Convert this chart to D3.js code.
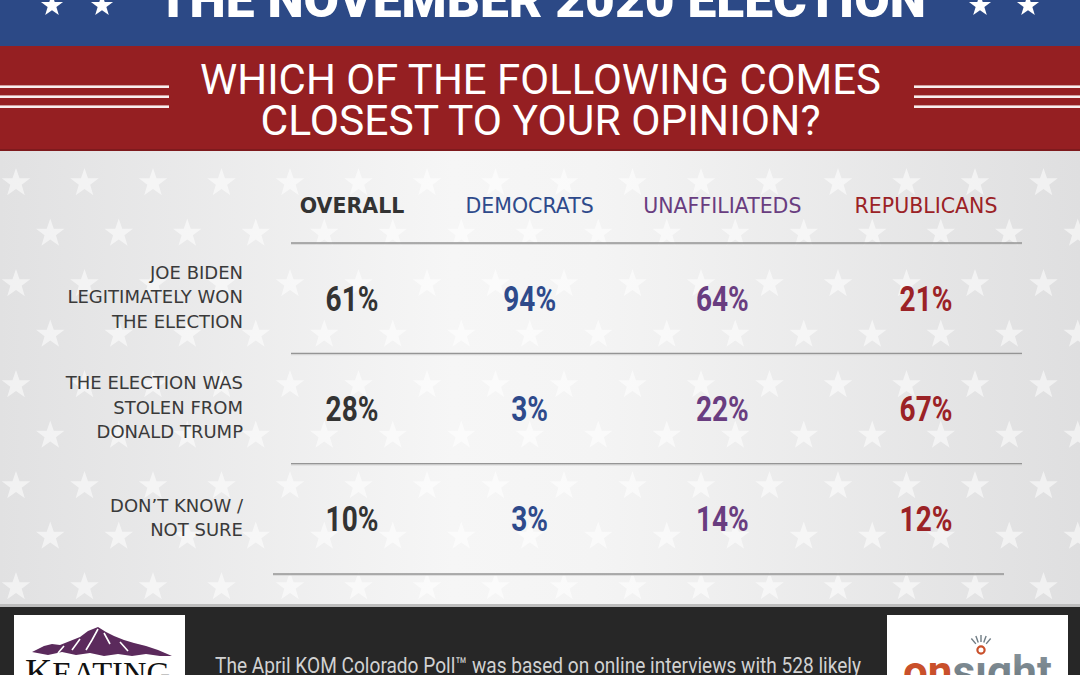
<!DOCTYPE html>
<html><head><meta charset="utf-8">
<script src="https://cdn.jsdelivr.net/npm/d3@7"></script>
<style>html,body{margin:0;padding:0;background:#fff;overflow:hidden}</style>
</head><body>
<svg id="c" width="1080" height="675"></svg>
<script>
// ---------- data ----------
const title = "THE NOVEMBER 2020 ELECTION";
const questionLines = ["WHICH OF THE FOLLOWING COMES", "CLOSEST TO YOUR OPINION?"];
const columns = ["OVERALL", "DEMOCRATS", "UNAFFILIATEDS", "REPUBLICANS"];
const responses = ["biden", "stolen", "dontknow"];
const responseLabels = [
  ["JOE BIDEN", "LEGITIMATELY WON", "THE ELECTION"],
  ["THE ELECTION WAS", "STOLEN FROM", "DONALD TRUMP"],
  ["DON\u2019T KNOW /", "NOT SURE"]
];
const overallValues = [61, 28, 10];
const democratValues = [94, 3, 3];
const unaffiliatedValues = [64, 22, 14];
const republicanValues = [21, 67, 12];
const footnote = "The April KOM Colorado Poll\u2122 was based on online interviews with 528 likely";

const seriesValues = [overallValues, democratValues, unaffiliatedValues, republicanValues];

// ---------- setup ----------
const W = 1080, H = 675;
const svg = d3.select("#c");
const defs = svg.append("defs");

const color = d3.scaleOrdinal().domain(columns)
  .range(["#333333", "#2e4a8b", "#693d80", "#9b2226"]);
const x = d3.scalePoint().domain(columns).range([345, 920]);
const y = d3.scaleBand().domain(responses).range([243, 574]).paddingInner(0).paddingOuter(0);

function starPath(R, r) {
  const pts = [];
  for (let i = 0; i < 10; i++) {
    const a = -Math.PI / 2 + i * Math.PI / 5;
    const rad = i % 2 === 0 ? R : r;
    pts.push([rad * Math.cos(a), rad * Math.sin(a)]);
  }
  return "M" + pts.map(p => p[0].toFixed(2) + "," + p[1].toFixed(2)).join("L") + "Z";
}

// ---------- background ----------
const bg = defs.append("linearGradient").attr("id", "bgGrad").attr("x1", 0).attr("x2", 1).attr("y1", 0).attr("y2", 0);
[[0, "#e1e1e2"], [0.42, "#f6f6f6"], [0.55, "#f4f4f4"], [1, "#dfdfe0"]].forEach(s =>
  bg.append("stop").attr("offset", s[0]).attr("stop-color", s[1]));
svg.append("rect").attr("x", 0).attr("y", 140).attr("width", W).attr("height", 480).attr("fill", "url(#bgGrad)");

const starG = svg.append("g").attr("fill", "#ffffff").attr("fill-opacity", 0.55);
const bgStar = starPath(15, 6);
for (let k = -1; k <= 9; k++) {
  const cy = 183 + 50.5 * k;
  const off = (k % 2 === 0) ? 16 : 50.25;
  for (let j = -1; j <= 16; j++) {
    starG.append("path").attr("d", bgStar).attr("transform", `translate(${off + 68.5 * j},${cy})`);
  }
}

// ---------- blue banner ----------
svg.append("rect").attr("x", 0).attr("y", 0).attr("width", W).attr("height", 46).attr("fill", "#2c4986");
svg.append("text").attr("x", 157).attr("y", 17)
  .attr("font-family", "Roboto, 'DejaVu Sans', sans-serif").attr("font-weight", 900)
  .attr("font-size", 50).attr("fill", "#ffffff")
  .attr("textLength", 769).attr("lengthAdjust", "spacingAndGlyphs")
  .text(title);
const smallStar = starPath(11.6, 4.6);
[52, 102, 980, 1028].forEach(cx =>
  svg.append("path").attr("d", smallStar).attr("fill", "#ffffff").attr("transform", `translate(${cx},5.6)`));

// ---------- red banner ----------
svg.append("rect").attr("x", 0).attr("y", 46).attr("width", W).attr("height", 105).attr("fill", "#951f22");
svg.append("rect").attr("x", 0).attr("y", 149).attr("width", W).attr("height", 2).attr("fill", "#7e1a1d");
[86.7, 96.7, 106.7].forEach(ly => {
  svg.append("rect").attr("x", 0).attr("y", ly - 1.3).attr("width", 169).attr("height", 2.6).attr("fill", "#f8eeee");
  svg.append("rect").attr("x", 914).attr("y", ly - 1.3).attr("width", 166).attr("height", 2.6).attr("fill", "#f8eeee");
});
const qWidths = [681, 560];
svg.selectAll("text.q").data(questionLines).join("text").attr("class", "q")
  .attr("x", 540.5).attr("y", (d, i) => i === 0 ? 93.5 : 135)
  .attr("text-anchor", "middle")
  .attr("font-family", "Roboto, 'DejaVu Sans', sans-serif").attr("font-weight", 400)
  .attr("font-size", 42).attr("fill", "#ffffff")
  .attr("textLength", (d, i) => qWidths[i]).attr("lengthAdjust", "spacingAndGlyphs")
  .text(d => d);

// ---------- table ----------
// header
svg.selectAll("text.hdr").data(columns).join("text").attr("class", "hdr")
  .attr("x", d => x(d) + (d === "OVERALL" ? 7 : d === "DEMOCRATS" ? -7 : d === "UNAFFILIATEDS" ? -6 : 6))
  .attr("y", 213)
  .attr("text-anchor", "middle")
  .attr("font-family", "'DejaVu Sans', sans-serif")
  .attr("font-weight", d => d === "OVERALL" ? 700 : 400)
  .attr("font-size", 20.5)
  .attr("fill", d => color(d))
  .text(d => d);

// separator lines
const edges = y.domain().map(r => y(r)).concat([y.range()[1]]);
const lineG = svg.append("g");
edges.forEach((ey, i) => {
  const last = i === edges.length - 1;
  const x0 = last ? 273 : 291, x1 = last ? 1004 : 1022;
  lineG.append("line").attr("x1", x0).attr("x2", x1).attr("y1", ey + 1.2).attr("y2", ey + 1.2)
    .attr("stroke", "#d6d6d6").attr("stroke-width", 1.2);
  lineG.append("line").attr("x1", x0).attr("x2", x1).attr("y1", ey).attr("y2", ey)
    .attr("stroke", "#959595").attr("stroke-width", 1.4);
});

// row labels
responses.forEach((r, ri) => {
  const lines = responseLabels[ri];
  const cy = y(r) + y.bandwidth() / 2;
  svg.append("g").selectAll("text").data(lines).join("text")
    .attr("x", 243)
    .attr("y", (d, i) => cy + 5 + (i - (lines.length - 1) / 2) * 24.5)
    .attr("text-anchor", "end")
    .attr("font-family", "'DejaVu Sans', sans-serif")
    .attr("font-size", 18).attr("fill", "#3a3a3a")
    .text(d => d);
});

// values
const cells = [];
columns.forEach((c, ci) => responses.forEach((r, ri) =>
  cells.push({ col: c, row: r, v: seriesValues[ci][ri] })));
svg.append("g").selectAll("text").data(cells).join("text")
  .attr("transform", d => `translate(${x(d.col) + (d.col === "OVERALL" ? 7 : d.col === "DEMOCRATS" ? -7 : d.col === "UNAFFILIATEDS" ? -6 : 6)},${y(d.row) + y.bandwidth() / 2 + 12.5}) scale(0.8,1)`)
  .attr("text-anchor", "middle")
  .attr("font-family", "Roboto, 'DejaVu Sans', sans-serif")
  .attr("font-weight", 700)
  .attr("font-size", 35)
  .attr("fill", d => color(d.col))
  .text(d => d.v + "%");

// ---------- footer ----------
svg.append("rect").attr("x", 0).attr("y", 604).attr("width", W).attr("height", 3).attr("fill", "#bdbdbd");
svg.append("rect").attr("x", 0).attr("y", 607).attr("width", W).attr("height", 68).attr("fill", "#272727");
svg.append("text").attr("x", 215).attr("y", 673)
  .attr("font-family", "Roboto, 'DejaVu Sans', sans-serif").attr("font-size", 22)
  .attr("fill", "#d2d2d2")
  .attr("textLength", 646).attr("lengthAdjust", "spacingAndGlyphs")
  .text(footnote);

// Keating logo
svg.append("rect").attr("x", 14).attr("y", 615).attr("width", 171).attr("height", 70).attr("fill", "#ffffff");
svg.append("path")
  .attr("d", "M32,652 L44,646 L52,644 L60,645 L70,641 L80,637 L88,631 L98,627 L106,632 L114,636 L124,640 L134,643 L146,646 L158,650 L172,656 L160,656 L146,654 L132,656 L118,654 L104,656 L90,653 L76,655 L62,652 L48,655 Z")
  .attr("fill", "#5b2a5c");
svg.append("path")
  .attr("d", "M98,629 L92,640 L86,650 M104,633 L110,644 M80,639 L72,650 M120,642 L128,651 M64,646 L58,653")
  .attr("stroke", "#ffffff").attr("stroke-width", 1.6).attr("fill", "none");
const kt = svg.append("text").attr("x", 25).attr("y", 684)
  .attr("font-family", "'Liberation Serif', 'DejaVu Serif', serif").attr("fill", "#111")
  .attr("textLength", 145).attr("lengthAdjust", "spacingAndGlyphs");
kt.append("tspan").attr("font-size", 36).text("K");
kt.append("tspan").attr("font-size", 31).text("EATING");

// Onsight logo
svg.append("rect").attr("x", 887).attr("y", 615).attr("width", 181).attr("height", 70).attr("fill", "#ffffff");
const og = defs.append("linearGradient").attr("id", "onGrad").attr("x1", 0).attr("x2", 0).attr("y1", 0).attr("y2", 1);
og.append("stop").attr("offset", 0).attr("stop-color", "#8c989f");
og.append("stop").attr("offset", 1).attr("stop-color", "#5f6d75");
const ot = svg.append("text").attr("x", 903).attr("y", 687)
  .attr("font-family", "Roboto, 'DejaVu Sans', sans-serif").attr("font-weight", 700).attr("font-size", 44);
ot.append("tspan").attr("fill", "#c9502b").text("on");
ot.append("tspan").attr("fill", "url(#onGrad)").text("s\u0131ght");
svg.append("circle").attr("cx", 981).attr("cy", 650).attr("r", 3.6)
  .attr("fill", "none").attr("stroke", "#c9502b").attr("stroke-width", 2.2);
[-130, -110, -90, -70, -50].forEach(a => {
  const rad = a * Math.PI / 180;
  svg.append("line")
    .attr("x1", 981 + 8 * Math.cos(rad)).attr("y1", 650 + 8 * Math.sin(rad))
    .attr("x2", 981 + 15 * Math.cos(rad)).attr("y2", 650 + 15 * Math.sin(rad))
    .attr("stroke", "#6f7c84").attr("stroke-width", 1.4);
});
</script>
</body></html>
